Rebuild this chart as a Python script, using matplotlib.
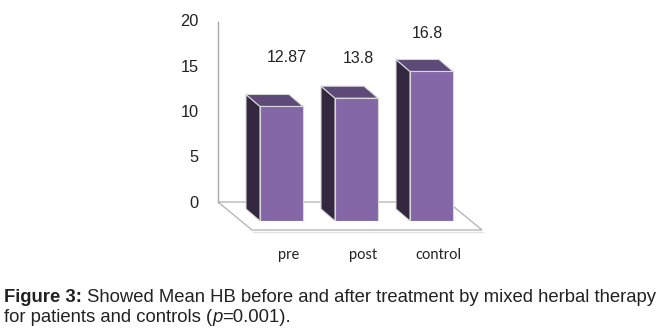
import matplotlib
matplotlib.use("Agg")
import matplotlib.pyplot as plt
from matplotlib.patches import Polygon
import numpy as np

categories = ["pre", "post", "control"]
values = [12.87, 13.8, 16.8]
value_labels = ["12.87", "13.8", "16.8"]
yticks = [0, 5, 10, 15, 20]

# style / layout
W, H = 660, 332
front_col = "#8467A6"
side_col = "#33283F"
top_col = "#5D4A79"
edge_col = "#d8d8d8"
floor_col = "#b8b8b8"
depth = (-14, 12)          # px offset from front to back of bar
floor_depth = (34, -28)    # px offset from back wall to front of floor
label_off = [(5, 49), (2, 40), (-4, 38)]  # px offset of value labels from bar top
cat_off = (7, -34)
cap_font = "Liberation Sans"
cap_size = 13.3

fig = plt.figure(figsize=(W / 100, H / 100), dpi=100)

def fx(px):
    return px / W

def fy(py):
    return 1 - py / H

spacing = 75.0
x = np.arange(len(categories))
xmin = -(281.5 - 218) / spacing
xmax = xmin + (482 - 218) / spacing

# back wall axes
axb = fig.add_axes([fx(218), fy(202), fx(482) - fx(218), (202 - 20) / H])
axb.set_xlim(xmin, xmax)
axb.set_ylim(0, 20)
for s in ["top", "right", "bottom"]:
    axb.spines[s].set_visible(False)
axb.spines["left"].set_color("#a8a8a8")
axb.spines["left"].set_linewidth(1.0)
axb.spines["left"].set_bounds(0, 19.8)
axb.set_xticks([])
axb.set_yticks(yticks)
axb.tick_params(axis="y", length=0, pad=14, labelsize=11.8, colors="#222222")
for t in axb.get_yticklabels():
    t.set_fontfamily("Liberation Sans")
axb.patch.set_alpha(0)

# floor (outline)
fig.canvas.draw()
tb = axb.transData
bl = tb.transform((xmin, 0))
br = bl + np.array([230, 0])
fl = bl + np.array(floor_depth)
fr = br + np.array(floor_depth)
inv = tb.inverted()
floor = Polygon(inv.transform(np.array([bl, br, fr, fl])), closed=True,
                facecolor="white", edgecolor=floor_col, lw=1.0, zorder=1,
                clip_on=False)
axb.add_patch(floor)
axb.plot(*inv.transform(np.array([fl + [1, -2], fr + [1, -2]])).T,
         color="#e2e2e2", lw=1.0, zorder=1, clip_on=False)

# front plane axes
axf = fig.add_axes([fx(218), fy(221), fx(482) - fx(218), 20 * 8.9 / H])
axf.set_xlim(xmin, xmax)
axf.set_ylim(0, 20)
axf.axis("off")
axf.patch.set_alpha(0)

bw = 43 / spacing
axf.bar(x, values, width=bw, color=front_col, edgecolor=edge_col, linewidth=0.8, zorder=3)
fig.canvas.draw()
tf = axf.transData
invf = tf.inverted()
d = np.array(depth)
for xi, v in zip(x, values):
    p0 = tf.transform((xi - bw / 2, 0))
    p1 = tf.transform((xi - bw / 2, v))
    p2 = tf.transform((xi + bw / 2, v))
    side = np.array([p0, p1, p1 + d, p0 + d])
    top = np.array([p1, p2, p2 + d, p1 + d])
    axf.add_patch(Polygon(invf.transform(side), closed=True, facecolor=side_col,
                          edgecolor=edge_col, lw=0.8, zorder=2))
    axf.add_patch(Polygon(invf.transform(top), closed=True, facecolor=top_col,
                          edgecolor=edge_col, lw=0.8, zorder=2))

for xi, v, lab, off in zip(x, values, value_labels, label_off):
    axf.annotate(lab, (xi, v), xytext=(off[0] * 0.72, off[1] * 0.72),
                 textcoords="offset points", ha="center", va="center",
                 fontsize=11.5, family="Liberation Sans", color="#222222")

for xi, c in zip(x, categories):
    axf.annotate(c, (xi, 0), xytext=(cat_off[0] * 0.72, cat_off[1] * 0.72),
                 textcoords="offset points", ha="center", va="center",
                 fontsize=10.5, family="Lato", color="#222222")

# caption
t1 = fig.text(fx(4), fy(298), "Figure 3:", fontsize=cap_size, fontweight="bold",
              family=cap_font, va="center", ha="left", color="#222222")
axf.annotate(" Showed Mean HB before and after treatment by mixed herbal therapy",
             xy=(1, 0.5), xycoords=t1, va="center", ha="left", fontsize=cap_size,
             family=cap_font, color="#222222", annotation_clip=False)
t2 = fig.text(fx(4), fy(318), "for patients and controls (", fontsize=cap_size,
              family=cap_font, va="center", ha="left", color="#222222")
t3 = axf.annotate("p", xy=(1, 0.5), xycoords=t2, va="center", ha="left",
                  fontsize=cap_size, family=cap_font, style="italic", color="#222222",
                  annotation_clip=False)
axf.annotate("=0.001).", xy=(1, 0.5), xycoords=t3, va="center", ha="left",
             fontsize=cap_size, family=cap_font, color="#222222", annotation_clip=False)

fig.savefig("out.png", dpi=100)
